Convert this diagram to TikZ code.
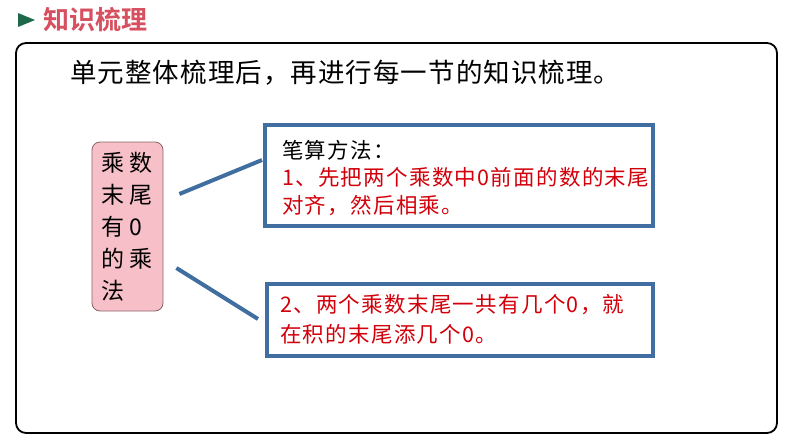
\documentclass[tikz,border=0pt]{standalone}
\usepackage{fontspec}
\usepackage{tikz}
\newfontfamily\cjk{Noto Sans CJK SC}
\newfontfamily\cjkwide{Noto Sans CJK SC}[LetterSpace=6]
\newfontfamily\cjkhead{Noto Sans CJK SC}[LetterSpace=4]
\newfontfamily\cjkbf{Noto Sans CJK SC Bold}
\definecolor{titlered}{RGB}{214,80,95}
\definecolor{arrowgreen}{RGB}{30,105,75}
\definecolor{boxblue}{RGB}{65,110,160}
\definecolor{notered}{RGB}{210,0,10}
\definecolor{pinkfill}{RGB}{247,192,200}
\definecolor{pinkline}{RGB}{140,100,105}

\begin{document}
\begin{tikzpicture}[x=1pt, y=-1pt,
        bluebox/.style={draw=boxblue, line width=4pt, inner sep=0pt},
        link/.style={draw=boxblue, line width=4pt},
        linetext/.style={anchor=west, inner sep=0pt, font=\cjkwide\fontsize{21.5}{24}\selectfont},
        topicbox/.style={draw=pinkline, fill=pinkfill, line width=0.8pt, rounded corners=8pt,
            minimum width=71pt, minimum height=169pt, text width=52pt, align=left,
            font=\cjk\fontsize{23}{32}\selectfont}]
        \useasboundingbox (0,0) rectangle (794,447);

        \fill[arrowgreen] (18,13) -- (35,20) -- (18,27) -- cycle;
        \node[anchor=west, inner sep=0pt, text=titlered, font=\cjkbf\fontsize{26}{28}\selectfont] at (43,20) (title) {知识梳理};

        \draw[line width=1.8pt, rounded corners=10pt] (16,43) rectangle (777,433);

        \node[anchor=west, inner sep=0pt, font=\cjkhead\fontsize{26.5}{30}\selectfont] at (70,73) (intro) {单元整体梳理后，再进行每一节的知识梳理。};

        \node[topicbox] at (127.5,226.5) (topic) {乘\hspace{5pt}数\\末\hspace{5pt}尾\\有\hspace{5pt}0\\的\hspace{5pt}乘\\法};

        \node[bluebox, minimum width=388pt, minimum height=101pt] at (459,175.5) (box1) {};
        \node[bluebox, minimum width=386pt, minimum height=72pt] at (460,320) (box2) {};

        \node[linetext] at (282,150) (r1) {笔算方法：};
        \node[linetext, text=notered] at (282,177) (r2) {1、先把两个乘数中0前面的数的末尾};
        \node[linetext, text=notered] at (282,206) (r3) {对齐，然后相乘。};
        \node[linetext, text=notered] at (280,305) (r4) {2、两个乘数末尾一共有几个0，就};
        \node[linetext, text=notered] at (280,334) (r5) {在积的末尾添几个0。};

        \draw[link] ([shift={(16,-32.5)}]topic.east) -- ([shift={(-1,-15.5)}]box1.west);
        \draw[link] ([shift={(13,41.5)}]topic.east) -- ([shift={(-7,-1)}]box2.west);

        \end{tikzpicture}
\end{document}
